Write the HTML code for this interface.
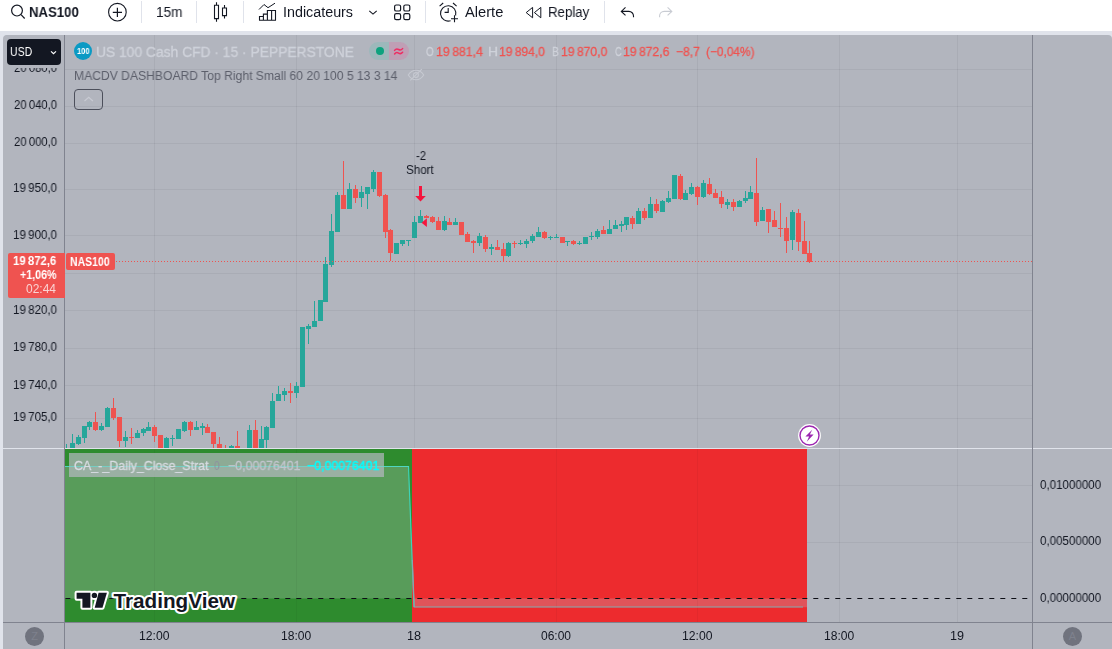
<!DOCTYPE html>
<html><head><meta charset="utf-8">
<style>
*{box-sizing:border-box;margin:0;padding:0}
html,body{width:1112px;height:649px;overflow:hidden;background:#e0e3eb;font-family:"Liberation Sans",sans-serif;color:#131722}
.abs{position:absolute}
#tb{position:absolute;left:0;top:0;width:1112px;height:31px;background:#fff}
#tb .t{position:absolute;top:4px;font-size:14px;line-height:16px;color:#131722;white-space:nowrap}
#tb .sep{position:absolute;top:1px;width:1px;height:22px;background:#e0e3eb}
#chart{position:absolute;left:3px;top:35px;width:1109px;height:614px;background:#b2b5be;border-radius:4px 4px 0 0;overflow:hidden}
.pl{position:absolute;left:0;width:57px;text-align:right;font-size:12px;line-height:14px;color:#131722;white-space:nowrap}
.pr{position:absolute;left:1040px;font-size:12px;line-height:14px;color:#131722;white-space:nowrap}
.tl{position:absolute;top:629px;font-size:12px;line-height:14px;color:#131722;white-space:nowrap;transform:translateX(-50%)}
.lg{position:absolute;white-space:nowrap}
.x{position:absolute;white-space:nowrap;transform-origin:0 0;will-change:transform}
</style></head><body>
<!-- TOOLBAR -->
<div id="tb">

<svg class="abs" style="left:0;top:0" width="700" height="31" fill="none" stroke="#131722" stroke-width="1.2">
 <circle cx="17" cy="10.6" r="5.4"/><path d="M21 14.6 L24.7 18.5"/>
 <circle cx="117.4" cy="12.2" r="8.8" stroke-width="1.1"/><path d="M117.4 7.7v9.2M112.8 12.3h9.2" stroke-width="1.2"/>
 <path d="M216.5 2.3v3M216.5 18.6v3.2M214.5 5.3h4v13.3h-4z M224.5 5v3M224.5 15.6v3M222.5 8h4v7.6h-4z" stroke-width="1.1"/>
 <path d="M259 9.5l5-5 4 3.2 7-4.5" stroke-width="1"/>
 <path d="M259.5 20.3v-3.8h3.9v3.8M263.4 20.3v-6.2h4v6.2M267.4 20.3v-9.8h4.2v9.8M259 20.3h17M275.5 20.3v-9.8h-4" stroke-width="1.1"/>
 <path d="M369.3 10.8l3.7 3.3 3.7-3.3" stroke-width="1.1"/>
 <rect x="394.6" y="5" width="6" height="6" rx="1.6"/><rect x="403.8" y="5" width="6" height="6" rx="1.6"/>
 <rect x="394.6" y="13.6" width="6" height="6" rx="1.6"/><rect x="403.8" y="13.6" width="6" height="6" rx="1.6"/>
 <path d="M455.6 15.5a7.7 7.7 0 1 0-5 5.2" stroke-width="1.1"/>
 <path d="M448.2 8v4.4h-3.6" stroke-width="1.1"/>
 <path d="M439.6 6.2l3.6-3.2M456.6 6.2l-3.6-3.2" stroke-width="1.1"/>
 <path d="M454.5 15.2v7M451 18.7h7" stroke-width="1.1"/>
 <path d="M532.6 7.4v10.4l-6.4-5.2zM540.8 7.4v10.4l-6.4-5.2z" stroke-width="1" stroke-linejoin="round"/>
 <path d="M625.5 7.4l-4.2 4 4.2 4M621.5 11.4h7.4a4.6 4.6 0 0 1 4.6 4.6v1.2" stroke-width="1.1"/>
 <path d="M667.6 7.4l4.2 4-4.2 4M671.6 11.4h-7.4a4.6 4.6 0 0 0-4.6 4.6v1.2" stroke="#c9ccd3" stroke-width="1.1"/>
</svg>
<div class="sep" style="left:141px"></div>
<div class="sep" style="left:196px"></div>
<div class="sep" style="left:243px"></div>
<div class="sep" style="left:425px"></div>
<div class="sep" style="left:604px"></div>
<div class="x" style="left:28.86px;top:5.00px;font-size:14px;line-height:14px;color:#131722;font-weight:bold;transform:scaleX(0.9404);">NAS100</div><div class="x" style="left:155.73px;top:5.00px;font-size:14px;line-height:14px;color:#131722;transform:scaleX(0.9731);">15m</div><div class="x" style="left:283.28px;top:5.00px;font-size:14px;line-height:14px;color:#131722;transform:scaleX(1.0224);">Indicateurs</div><div class="x" style="left:465.30px;top:5.00px;font-size:14px;line-height:14px;color:#131722;transform:scaleX(1.0472);">Alerte</div><div class="x" style="left:548.35px;top:5.00px;font-size:14px;line-height:14px;color:#131722;transform:scaleX(0.9465);">Replay</div>
</div>
<div id="chart"></div>
<!-- everything below is positioned in page coordinates -->
<svg class="abs" style="left:0;top:0" width="1112" height="649" shape-rendering="crispEdges">
<defs><clipPath id="mp"><rect x="65" y="35" width="967" height="413"/></clipPath></defs>
<g clip-path="url(#mp)">
<rect x="65" y="69" width="967" height="1" fill="#131722" fill-opacity="0.055"/>
<rect x="65" y="106" width="967" height="1" fill="#131722" fill-opacity="0.055"/>
<rect x="65" y="143" width="967" height="1" fill="#131722" fill-opacity="0.055"/>
<rect x="65" y="189" width="967" height="1" fill="#131722" fill-opacity="0.055"/>
<rect x="65" y="235" width="967" height="1" fill="#131722" fill-opacity="0.055"/>
<rect x="65" y="273" width="967" height="1" fill="#131722" fill-opacity="0.055"/>
<rect x="65" y="310" width="967" height="1" fill="#131722" fill-opacity="0.055"/>
<rect x="65" y="348" width="967" height="1" fill="#131722" fill-opacity="0.055"/>
<rect x="65" y="385" width="967" height="1" fill="#131722" fill-opacity="0.055"/>
<rect x="65" y="418" width="967" height="1" fill="#131722" fill-opacity="0.055"/>
<rect x="154" y="35" width="1" height="413" fill="#131722" fill-opacity="0.055"/>
<rect x="296" y="35" width="1" height="413" fill="#131722" fill-opacity="0.055"/>
<rect x="414" y="35" width="1" height="413" fill="#131722" fill-opacity="0.055"/>
<rect x="556" y="35" width="1" height="413" fill="#131722" fill-opacity="0.055"/>
<rect x="697" y="35" width="1" height="413" fill="#131722" fill-opacity="0.055"/>
<rect x="839" y="35" width="1" height="413" fill="#131722" fill-opacity="0.055"/>
<rect x="957" y="35" width="1" height="413" fill="#131722" fill-opacity="0.055"/>
<rect x="66" y="444" width="1" height="4" fill="#26a69a"/>
<rect x="72" y="434" width="1" height="14" fill="#26a69a"/>
<rect x="70" y="443" width="5" height="5" fill="#26a69a"/>
<rect x="78" y="435" width="1" height="10" fill="#26a69a"/>
<rect x="76" y="437" width="5" height="7" fill="#26a69a"/>
<rect x="84" y="426" width="1" height="17" fill="#26a69a"/>
<rect x="82" y="426" width="5" height="12" fill="#26a69a"/>
<rect x="89" y="421" width="1" height="9" fill="#26a69a"/>
<rect x="87" y="422" width="5" height="5" fill="#26a69a"/>
<rect x="95" y="412" width="1" height="19" fill="#ef5350"/>
<rect x="93" y="422" width="5" height="8" fill="#ef5350"/>
<rect x="101" y="423" width="1" height="8" fill="#26a69a"/>
<rect x="99" y="426" width="5" height="4" fill="#26a69a"/>
<rect x="107" y="407" width="1" height="20" fill="#26a69a"/>
<rect x="105" y="408" width="5" height="19" fill="#26a69a"/>
<rect x="113" y="398" width="1" height="22" fill="#ef5350"/>
<rect x="111" y="408" width="5" height="10" fill="#ef5350"/>
<rect x="119" y="417" width="1" height="30" fill="#ef5350"/>
<rect x="117" y="417" width="5" height="24" fill="#ef5350"/>
<rect x="125" y="431" width="1" height="16" fill="#26a69a"/>
<rect x="123" y="437" width="5" height="4" fill="#26a69a"/>
<rect x="131" y="428" width="1" height="16" fill="#ef5350"/>
<rect x="129" y="437" width="5" height="1" fill="#ef5350"/>
<rect x="137" y="430" width="1" height="8" fill="#26a69a"/>
<rect x="135" y="433" width="5" height="5" fill="#26a69a"/>
<rect x="143" y="428" width="1" height="8" fill="#26a69a"/>
<rect x="141" y="429" width="5" height="4" fill="#26a69a"/>
<rect x="148" y="422" width="1" height="9" fill="#26a69a"/>
<rect x="146" y="427" width="5" height="4" fill="#26a69a"/>
<rect x="154" y="425" width="1" height="17" fill="#ef5350"/>
<rect x="152" y="427" width="5" height="9" fill="#ef5350"/>
<rect x="160" y="435" width="1" height="13" fill="#ef5350"/>
<rect x="158" y="435" width="5" height="13" fill="#ef5350"/>
<rect x="166" y="437" width="1" height="11" fill="#26a69a"/>
<rect x="164" y="438" width="5" height="10" fill="#26a69a"/>
<rect x="172" y="435" width="1" height="11" fill="#26a69a"/>
<rect x="170" y="438" width="5" height="1" fill="#26a69a"/>
<rect x="178" y="429" width="1" height="10" fill="#26a69a"/>
<rect x="176" y="429" width="5" height="10" fill="#26a69a"/>
<rect x="184" y="421" width="1" height="11" fill="#26a69a"/>
<rect x="182" y="422" width="5" height="9" fill="#26a69a"/>
<rect x="190" y="421" width="1" height="15" fill="#ef5350"/>
<rect x="188" y="422" width="5" height="8" fill="#ef5350"/>
<rect x="196" y="421" width="1" height="9" fill="#26a69a"/>
<rect x="194" y="427" width="5" height="3" fill="#26a69a"/>
<rect x="202" y="423" width="1" height="12" fill="#26a69a"/>
<rect x="200" y="426" width="5" height="2" fill="#26a69a"/>
<rect x="207" y="424" width="1" height="9" fill="#ef5350"/>
<rect x="205" y="427" width="5" height="6" fill="#ef5350"/>
<rect x="213" y="432" width="1" height="16" fill="#ef5350"/>
<rect x="211" y="432" width="5" height="12" fill="#ef5350"/>
<rect x="219" y="437" width="1" height="11" fill="#ef5350"/>
<rect x="217" y="444" width="5" height="4" fill="#ef5350"/>
<rect x="225" y="445" width="1" height="3" fill="#ef5350"/>
<rect x="231" y="445" width="1" height="3" fill="#26a69a"/>
<rect x="229" y="446" width="5" height="2" fill="#26a69a"/>
<rect x="237" y="431" width="1" height="17" fill="#ef5350"/>
<rect x="235" y="446" width="5" height="2" fill="#ef5350"/>
<rect x="249" y="425" width="1" height="23" fill="#26a69a"/>
<rect x="247" y="430" width="5" height="18" fill="#26a69a"/>
<rect x="255" y="420" width="1" height="28" fill="#ef5350"/>
<rect x="253" y="430" width="5" height="18" fill="#ef5350"/>
<rect x="261" y="426" width="1" height="22" fill="#26a69a"/>
<rect x="259" y="439" width="5" height="9" fill="#26a69a"/>
<rect x="266" y="426" width="1" height="22" fill="#26a69a"/>
<rect x="264" y="427" width="5" height="13" fill="#26a69a"/>
<rect x="272" y="393" width="1" height="35" fill="#26a69a"/>
<rect x="270" y="401" width="5" height="27" fill="#26a69a"/>
<rect x="278" y="386" width="1" height="15" fill="#26a69a"/>
<rect x="276" y="394" width="5" height="7" fill="#26a69a"/>
<rect x="284" y="388" width="1" height="13" fill="#26a69a"/>
<rect x="282" y="391" width="5" height="4" fill="#26a69a"/>
<rect x="290" y="383" width="1" height="20" fill="#ef5350"/>
<rect x="288" y="391" width="5" height="2" fill="#ef5350"/>
<rect x="296" y="382" width="1" height="16" fill="#26a69a"/>
<rect x="294" y="386" width="5" height="7" fill="#26a69a"/>
<rect x="302" y="327" width="1" height="60" fill="#26a69a"/>
<rect x="300" y="327" width="5" height="60" fill="#26a69a"/>
<rect x="308" y="324" width="1" height="20" fill="#26a69a"/>
<rect x="306" y="326" width="5" height="3" fill="#26a69a"/>
<rect x="314" y="301" width="1" height="26" fill="#26a69a"/>
<rect x="312" y="321" width="5" height="6" fill="#26a69a"/>
<rect x="320" y="300" width="1" height="21" fill="#26a69a"/>
<rect x="318" y="300" width="5" height="21" fill="#26a69a"/>
<rect x="325" y="257" width="1" height="45" fill="#26a69a"/>
<rect x="323" y="264" width="5" height="38" fill="#26a69a"/>
<rect x="331" y="214" width="1" height="53" fill="#26a69a"/>
<rect x="329" y="231" width="5" height="34" fill="#26a69a"/>
<rect x="337" y="192" width="1" height="40" fill="#26a69a"/>
<rect x="335" y="195" width="5" height="37" fill="#26a69a"/>
<rect x="343" y="161" width="1" height="48" fill="#ef5350"/>
<rect x="341" y="195" width="5" height="14" fill="#ef5350"/>
<rect x="349" y="183" width="1" height="26" fill="#26a69a"/>
<rect x="347" y="189" width="5" height="20" fill="#26a69a"/>
<rect x="355" y="185" width="1" height="18" fill="#ef5350"/>
<rect x="353" y="189" width="5" height="9" fill="#ef5350"/>
<rect x="361" y="186" width="1" height="21" fill="#26a69a"/>
<rect x="359" y="192" width="5" height="6" fill="#26a69a"/>
<rect x="367" y="187" width="1" height="22" fill="#26a69a"/>
<rect x="365" y="187" width="5" height="7" fill="#26a69a"/>
<rect x="373" y="170" width="1" height="22" fill="#26a69a"/>
<rect x="371" y="172" width="5" height="17" fill="#26a69a"/>
<rect x="379" y="172" width="1" height="25" fill="#ef5350"/>
<rect x="377" y="172" width="5" height="24" fill="#ef5350"/>
<rect x="385" y="194" width="1" height="44" fill="#ef5350"/>
<rect x="383" y="195" width="5" height="37" fill="#ef5350"/>
<rect x="390" y="229" width="1" height="32" fill="#ef5350"/>
<rect x="388" y="230" width="5" height="23" fill="#ef5350"/>
<rect x="396" y="243" width="1" height="11" fill="#26a69a"/>
<rect x="394" y="243" width="5" height="11" fill="#26a69a"/>
<rect x="402" y="240" width="1" height="6" fill="#26a69a"/>
<rect x="400" y="240" width="5" height="4" fill="#26a69a"/>
<rect x="408" y="240" width="1" height="6" fill="#26a69a"/>
<rect x="406" y="240" width="5" height="1" fill="#26a69a"/>
<rect x="414" y="216" width="1" height="22" fill="#26a69a"/>
<rect x="412" y="222" width="5" height="16" fill="#26a69a"/>
<rect x="420" y="210" width="1" height="13" fill="#26a69a"/>
<rect x="418" y="216" width="5" height="7" fill="#26a69a"/>
<rect x="426" y="215" width="1" height="3" fill="#ef5350"/>
<rect x="424" y="216" width="5" height="2" fill="#ef5350"/>
<rect x="432" y="216" width="1" height="7" fill="#ef5350"/>
<rect x="430" y="217" width="5" height="5" fill="#ef5350"/>
<rect x="438" y="217" width="1" height="13" fill="#ef5350"/>
<rect x="436" y="221" width="5" height="9" fill="#ef5350"/>
<rect x="444" y="216" width="1" height="15" fill="#26a69a"/>
<rect x="442" y="221" width="5" height="9" fill="#26a69a"/>
<rect x="449" y="218" width="1" height="7" fill="#ef5350"/>
<rect x="447" y="222" width="5" height="3" fill="#ef5350"/>
<rect x="455" y="218" width="1" height="7" fill="#26a69a"/>
<rect x="453" y="222" width="5" height="3" fill="#26a69a"/>
<rect x="461" y="222" width="1" height="13" fill="#ef5350"/>
<rect x="459" y="222" width="5" height="13" fill="#ef5350"/>
<rect x="467" y="232" width="1" height="10" fill="#ef5350"/>
<rect x="465" y="234" width="5" height="8" fill="#ef5350"/>
<rect x="473" y="240" width="1" height="13" fill="#ef5350"/>
<rect x="471" y="241" width="5" height="2" fill="#ef5350"/>
<rect x="479" y="233" width="1" height="13" fill="#26a69a"/>
<rect x="477" y="236" width="5" height="7" fill="#26a69a"/>
<rect x="485" y="235" width="1" height="17" fill="#ef5350"/>
<rect x="483" y="237" width="5" height="12" fill="#ef5350"/>
<rect x="491" y="244" width="1" height="11" fill="#26a69a"/>
<rect x="489" y="247" width="5" height="2" fill="#26a69a"/>
<rect x="497" y="240" width="1" height="10" fill="#ef5350"/>
<rect x="495" y="247" width="5" height="3" fill="#ef5350"/>
<rect x="503" y="243" width="1" height="19" fill="#ef5350"/>
<rect x="501" y="249" width="5" height="7" fill="#ef5350"/>
<rect x="508" y="242" width="1" height="15" fill="#26a69a"/>
<rect x="506" y="243" width="5" height="13" fill="#26a69a"/>
<rect x="514" y="241" width="1" height="7" fill="#ef5350"/>
<rect x="512" y="243" width="5" height="1" fill="#ef5350"/>
<rect x="520" y="240" width="1" height="5" fill="#26a69a"/>
<rect x="518" y="243" width="5" height="1" fill="#26a69a"/>
<rect x="526" y="239" width="1" height="9" fill="#26a69a"/>
<rect x="524" y="241" width="5" height="3" fill="#26a69a"/>
<rect x="532" y="234" width="1" height="9" fill="#26a69a"/>
<rect x="530" y="236" width="5" height="5" fill="#26a69a"/>
<rect x="538" y="227" width="1" height="10" fill="#26a69a"/>
<rect x="536" y="232" width="5" height="5" fill="#26a69a"/>
<rect x="544" y="231" width="1" height="8" fill="#ef5350"/>
<rect x="542" y="232" width="5" height="6" fill="#ef5350"/>
<rect x="550" y="236" width="1" height="4" fill="#26a69a"/>
<rect x="548" y="237" width="5" height="1" fill="#26a69a"/>
<rect x="556" y="234" width="1" height="4" fill="#26a69a"/>
<rect x="554" y="237" width="5" height="1" fill="#26a69a"/>
<rect x="562" y="237" width="1" height="6" fill="#ef5350"/>
<rect x="560" y="237" width="5" height="6" fill="#ef5350"/>
<rect x="567" y="241" width="1" height="5" fill="#26a69a"/>
<rect x="565" y="241" width="5" height="1" fill="#26a69a"/>
<rect x="573" y="240" width="1" height="5" fill="#ef5350"/>
<rect x="571" y="241" width="5" height="3" fill="#ef5350"/>
<rect x="579" y="241" width="1" height="4" fill="#26a69a"/>
<rect x="577" y="243" width="5" height="1" fill="#26a69a"/>
<rect x="585" y="237" width="1" height="7" fill="#26a69a"/>
<rect x="583" y="237" width="5" height="7" fill="#26a69a"/>
<rect x="591" y="232" width="1" height="8" fill="#26a69a"/>
<rect x="589" y="236" width="5" height="1" fill="#26a69a"/>
<rect x="597" y="229" width="1" height="10" fill="#26a69a"/>
<rect x="595" y="231" width="5" height="6" fill="#26a69a"/>
<rect x="603" y="226" width="1" height="8" fill="#ef5350"/>
<rect x="601" y="230" width="5" height="4" fill="#ef5350"/>
<rect x="609" y="220" width="1" height="14" fill="#26a69a"/>
<rect x="607" y="229" width="5" height="5" fill="#26a69a"/>
<rect x="615" y="220" width="1" height="9" fill="#26a69a"/>
<rect x="613" y="225" width="5" height="4" fill="#26a69a"/>
<rect x="621" y="221" width="1" height="11" fill="#26a69a"/>
<rect x="619" y="224" width="5" height="2" fill="#26a69a"/>
<rect x="626" y="217" width="1" height="13" fill="#26a69a"/>
<rect x="624" y="217" width="5" height="8" fill="#26a69a"/>
<rect x="632" y="216" width="1" height="13" fill="#ef5350"/>
<rect x="630" y="218" width="5" height="6" fill="#ef5350"/>
<rect x="638" y="208" width="1" height="16" fill="#26a69a"/>
<rect x="636" y="211" width="5" height="13" fill="#26a69a"/>
<rect x="644" y="208" width="1" height="12" fill="#ef5350"/>
<rect x="642" y="211" width="5" height="7" fill="#ef5350"/>
<rect x="650" y="197" width="1" height="21" fill="#26a69a"/>
<rect x="648" y="204" width="5" height="14" fill="#26a69a"/>
<rect x="656" y="199" width="1" height="14" fill="#ef5350"/>
<rect x="654" y="204" width="5" height="7" fill="#ef5350"/>
<rect x="662" y="200" width="1" height="12" fill="#26a69a"/>
<rect x="660" y="201" width="5" height="11" fill="#26a69a"/>
<rect x="668" y="191" width="1" height="12" fill="#26a69a"/>
<rect x="666" y="198" width="5" height="4" fill="#26a69a"/>
<rect x="674" y="175" width="1" height="24" fill="#26a69a"/>
<rect x="672" y="175" width="5" height="24" fill="#26a69a"/>
<rect x="680" y="174" width="1" height="26" fill="#ef5350"/>
<rect x="678" y="176" width="5" height="23" fill="#ef5350"/>
<rect x="685" y="190" width="1" height="10" fill="#26a69a"/>
<rect x="683" y="193" width="5" height="7" fill="#26a69a"/>
<rect x="691" y="183" width="1" height="12" fill="#26a69a"/>
<rect x="689" y="187" width="5" height="7" fill="#26a69a"/>
<rect x="697" y="186" width="1" height="19" fill="#ef5350"/>
<rect x="695" y="187" width="5" height="10" fill="#ef5350"/>
<rect x="703" y="180" width="1" height="18" fill="#26a69a"/>
<rect x="701" y="183" width="5" height="14" fill="#26a69a"/>
<rect x="709" y="178" width="1" height="17" fill="#ef5350"/>
<rect x="707" y="184" width="5" height="10" fill="#ef5350"/>
<rect x="715" y="189" width="1" height="9" fill="#ef5350"/>
<rect x="713" y="193" width="5" height="5" fill="#ef5350"/>
<rect x="721" y="191" width="1" height="17" fill="#ef5350"/>
<rect x="719" y="197" width="5" height="7" fill="#ef5350"/>
<rect x="727" y="199" width="1" height="10" fill="#26a69a"/>
<rect x="725" y="202" width="5" height="3" fill="#26a69a"/>
<rect x="733" y="199" width="1" height="12" fill="#ef5350"/>
<rect x="731" y="202" width="5" height="5" fill="#ef5350"/>
<rect x="739" y="200" width="1" height="7" fill="#26a69a"/>
<rect x="737" y="201" width="5" height="6" fill="#26a69a"/>
<rect x="745" y="191" width="1" height="12" fill="#26a69a"/>
<rect x="743" y="198" width="5" height="3" fill="#26a69a"/>
<rect x="750" y="186" width="1" height="13" fill="#26a69a"/>
<rect x="748" y="192" width="5" height="7" fill="#26a69a"/>
<rect x="756" y="158" width="1" height="68" fill="#ef5350"/>
<rect x="754" y="193" width="5" height="29" fill="#ef5350"/>
<rect x="762" y="207" width="1" height="14" fill="#26a69a"/>
<rect x="760" y="210" width="5" height="11" fill="#26a69a"/>
<rect x="768" y="209" width="1" height="24" fill="#ef5350"/>
<rect x="766" y="209" width="5" height="13" fill="#ef5350"/>
<rect x="774" y="211" width="1" height="16" fill="#ef5350"/>
<rect x="772" y="220" width="5" height="7" fill="#ef5350"/>
<rect x="780" y="203" width="1" height="34" fill="#ef5350"/>
<rect x="778" y="228" width="5" height="1" fill="#ef5350"/>
<rect x="786" y="217" width="1" height="36" fill="#ef5350"/>
<rect x="784" y="228" width="5" height="13" fill="#ef5350"/>
<rect x="792" y="210" width="1" height="40" fill="#26a69a"/>
<rect x="790" y="212" width="5" height="28" fill="#26a69a"/>
<rect x="798" y="209" width="1" height="42" fill="#ef5350"/>
<rect x="796" y="213" width="5" height="29" fill="#ef5350"/>
<rect x="804" y="221" width="1" height="33" fill="#ef5350"/>
<rect x="802" y="241" width="5" height="13" fill="#ef5350"/>
<rect x="809" y="241" width="1" height="22" fill="#ef5350"/>
<rect x="807" y="253" width="5" height="9" fill="#ef5350"/>
</g>
<rect x="65" y="449" width="347" height="173" fill="#2e8b2e"/>
<rect x="412" y="449" width="395" height="173" fill="#ed2b2e"/>
<path d="M65 466.5 L408.5 466.5 L412 550 L412 598.5 L65 598.5 Z" fill="#589c5a" shape-rendering="geometricPrecision"/>
<path d="M413.8 598.5 L807 598.5 L807 607.3 L414.2 607.3 Z" fill="#e0545a" shape-rendering="geometricPrecision"/>
<rect x="807" y="485" width="225" height="1" fill="#131722" fill-opacity="0.055"/>
<rect x="807" y="542" width="225" height="1" fill="#131722" fill-opacity="0.055"/>
<rect x="839" y="449" width="1" height="173" fill="#131722" fill-opacity="0.055"/>
<rect x="957" y="449" width="1" height="173" fill="#131722" fill-opacity="0.055"/>
<rect x="154" y="449" width="1" height="173" fill="#000" fill-opacity="0.04"/>
<rect x="296" y="449" width="1" height="173" fill="#000" fill-opacity="0.04"/>
<rect x="556" y="449" width="1" height="173" fill="#000" fill-opacity="0.04"/>
<rect x="697" y="449" width="1" height="173" fill="#000" fill-opacity="0.04"/>
<path d="M65 466.5 L408.5 466.5 L414 607" fill="none" stroke="#3fd3b8" stroke-width="1.2" shape-rendering="geometricPrecision"/>
<path d="M412.3 560 L414.2 607 L803 607" fill="none" stroke="#84a9ad" stroke-width="1.200" shape-rendering="geometricPrecision"/>
<path d="M65.5 598.5 H1030" fill="none" stroke="#0c0e15" stroke-width="1" stroke-dasharray="5 6" stroke-dashoffset="0.2" shape-rendering="geometricPrecision"/>
<rect x="3" y="448" width="1109" height="1" fill="#e0e3eb"/>
<rect x="3" y="622" width="1109" height="1" fill="#80838f"/>
<rect x="64" y="35" width="1" height="614" fill="#80838f"/>
<rect x="1032" y="35" width="1" height="614" fill="#80838f"/>
<path d="M116 261.5 H1032" fill="none" stroke="#ef5350" stroke-width="1" stroke-dasharray="1 2"/>
</svg>
<div class="x" style="left:13.80px;top:62.00px;font-size:12px;line-height:12px;color:#131722;transform:scaleX(0.9413);">20&#8239;080,0</div>
<div class="abs" style="left:4px;top:35px;width:60px;height:33px;background:#b2b5be;border-radius:4px 0 0 0"></div>
<div class="x" style="left:13.80px;top:99.00px;font-size:12px;line-height:12px;color:#131722;transform:scaleX(0.9413);">20&#8239;040,0</div>
<div class="x" style="left:13.80px;top:136.00px;font-size:12px;line-height:12px;color:#131722;transform:scaleX(0.9413);">20&#8239;000,0</div>
<div class="x" style="left:12.84px;top:182.00px;font-size:12px;line-height:12px;color:#131722;transform:scaleX(0.9622);">19&#8239;950,0</div>
<div class="x" style="left:12.84px;top:229.00px;font-size:12px;line-height:12px;color:#131722;transform:scaleX(0.9622);">19&#8239;900,0</div>
<div class="x" style="left:12.84px;top:304.00px;font-size:12px;line-height:12px;color:#131722;transform:scaleX(0.9622);">19&#8239;820,0</div>
<div class="x" style="left:12.84px;top:341.00px;font-size:12px;line-height:12px;color:#131722;transform:scaleX(0.9622);">19&#8239;780,0</div>
<div class="x" style="left:12.84px;top:379.00px;font-size:12px;line-height:12px;color:#131722;transform:scaleX(0.9622);">19&#8239;740,0</div>
<div class="x" style="left:12.84px;top:411.00px;font-size:12px;line-height:12px;color:#131722;transform:scaleX(0.9622);">19&#8239;705,0</div>
<div class="abs" style="left:7px;top:39px;width:54px;height:25.5px;background:#131722;border-radius:4px"></div>
<div class="x" style="left:10.12px;top:46.00px;font-size:12px;line-height:12px;color:#fff;transform:scaleX(0.8750);">USD</div>
<svg class="abs" style="left:48px;top:48px" width="10" height="8" fill="none" stroke="#fff" stroke-width="1.2"><path d="M3 3.400l2.500 2.300 2.500-2.300"/></svg>
<div class="x" style="left:1040.20px;top:479.00px;font-size:12px;line-height:12px;color:#131722;transform:scaleX(0.9635);">0,01000000</div>
<div class="x" style="left:1040.20px;top:535.00px;font-size:12px;line-height:12px;color:#131722;transform:scaleX(0.9635);">0,00500000</div>
<div class="x" style="left:1040.20px;top:592.00px;font-size:12px;line-height:12px;color:#131722;transform:scaleX(0.9635);">0,00000000</div>
<div class="x" style="left:139.29px;top:630.00px;font-size:12px;line-height:12px;color:#131722;transform:scaleX(1.0138);">12:00</div>
<div class="x" style="left:280.89px;top:630.00px;font-size:12px;line-height:12px;color:#131722;transform:scaleX(1.0069);">18:00</div>
<div class="x" style="left:406.65px;top:630.00px;font-size:12px;line-height:12px;color:#131722;transform:scaleX(1.0500);">18</div>
<div class="x" style="left:541.20px;top:630.00px;font-size:12px;line-height:12px;color:#131722;transform:scaleX(0.9867);">06:00</div>
<div class="x" style="left:681.79px;top:630.00px;font-size:12px;line-height:12px;color:#131722;transform:scaleX(1.0138);">12:00</div>
<div class="x" style="left:823.89px;top:630.00px;font-size:12px;line-height:12px;color:#131722;transform:scaleX(1.0069);">18:00</div>
<div class="x" style="left:949.95px;top:630.00px;font-size:12px;line-height:12px;color:#131722;transform:scaleX(1.0500);">19</div>
<div class="abs" style="left:25px;top:627px;width:19px;height:19px;border-radius:50%;background:#70737e;color:#7e818d;font-size:11px;line-height:19px;text-align:center">Z</div>
<div class="abs" style="left:1063px;top:627px;width:19px;height:19px;border-radius:50%;background:#70737e;color:#7e818d;font-size:11px;line-height:19px;text-align:center">A</div>
<div class="abs" style="left:8px;top:253px;width:57px;height:45px;background:#ef5350;border-radius:2px 0 0 2px"></div>
<div class="x" style="left:12.70px;top:255.00px;font-size:12px;line-height:12px;color:#fff;font-weight:bold;transform:scaleX(0.9457);">19&#8239;872,6</div>
<div class="x" style="left:19.70px;top:269.00px;font-size:12px;line-height:12px;color:#fff;font-weight:bold;transform:scaleX(0.8902);">+1,06%</div>
<div class="x" style="left:26.20px;top:283.00px;font-size:12px;line-height:12px;color:#fbd3d2;transform:scaleX(1.0000);">02:44</div>
<div class="abs" style="left:66px;top:253px;width:49px;height:17px;background:#ef5350;border-radius:2px"></div>
<div class="x" style="left:69.90px;top:256.00px;font-size:12px;line-height:12px;color:#fff;font-weight:bold;transform:scaleX(0.8733);">NAS100</div>
<div class="abs" style="left:74px;top:42px;width:18px;height:18px;border-radius:50%;background:#0a9ac4"></div>
<div class="x" style="left:77.00px;top:47.00px;font-size:8.5px;line-height:8.5px;color:#fff;font-weight:bold;transform:scaleX(0.8786);">100</div>
<div class="x" style="left:96.01px;top:43.80px;font-size:14px;line-height:14px;color:#cfd2da;transform:scale(0.9877,1.1000);-webkit-text-stroke:0.3px">US 100 Cash CFD · 15 · PEPPERSTONE</div>
<svg class="abs" style="left:365px;top:40px" width="50" height="24"><path d="M13 2h11v18h-11a9 9 0 0 1 0-18z" fill="#9db8bb"/><path d="M24 2h11a9 9 0 0 1 0 18h-11z" fill="#bf9fb5"/><circle cx="15" cy="10.900" r="4" fill="#0da27e"/><path d="M29.600 10.400c1.200-1.700 2.600-1.800 4-0.900s2.700 0.800 4-0.900M29.600 14c1.200-1.700 2.600-1.800 4-0.900s2.700 0.800 4-0.900" fill="none" stroke="#ee2d62" stroke-width="1.500" stroke-linecap="round"/></svg>
<div class="x" style="left:425.50px;top:46.00px;font-size:12.5px;line-height:12.5px;color:#cfd2da;transform:scaleX(0.8000);-webkit-text-stroke:0.3px">O</div>
<div class="x" style="left:435.82px;top:46.00px;font-size:12.5px;line-height:12.5px;color:#ef5350;transform:scaleX(0.9830);-webkit-text-stroke:0.3px">19&#8239;881,4</div>
<div class="x" style="left:488.29px;top:46.00px;font-size:12.5px;line-height:12.5px;color:#cfd2da;transform:scaleX(1.1143);-webkit-text-stroke:0.3px">H</div>
<div class="x" style="left:498.74px;top:46.00px;font-size:12.5px;line-height:12.5px;color:#ef5350;transform:scaleX(0.9617);-webkit-text-stroke:0.3px">19&#8239;894,0</div>
<div class="x" style="left:552.39px;top:46.00px;font-size:12.5px;line-height:12.5px;color:#cfd2da;transform:scaleX(0.8143);-webkit-text-stroke:0.3px">B</div>
<div class="x" style="left:560.83px;top:46.00px;font-size:12.5px;line-height:12.5px;color:#ef5350;transform:scaleX(0.9702);-webkit-text-stroke:0.3px">19&#8239;870,0</div>
<div class="x" style="left:614.50px;top:46.00px;font-size:12.5px;line-height:12.5px;color:#cfd2da;transform:scaleX(0.7444);-webkit-text-stroke:0.3px">C</div>
<div class="x" style="left:623.13px;top:46.00px;font-size:12.5px;line-height:12.5px;color:#ef5350;transform:scaleX(0.9723);-webkit-text-stroke:0.3px">19&#8239;872,6</div>
<div class="x" style="left:676.33px;top:46.00px;font-size:12.5px;line-height:12.5px;color:#ef5350;transform:scaleX(0.9652);-webkit-text-stroke:0.3px">−8,7</div>
<div class="x" style="left:705.95px;top:46.00px;font-size:12.5px;line-height:12.5px;color:#ef5350;transform:scaleX(0.9480);-webkit-text-stroke:0.3px">(−0,04%)</div>
<div class="x" style="left:73.73px;top:70.00px;font-size:12.5px;line-height:12.5px;color:#5c5f6b;transform:scaleX(0.9705);">MACDV DASHBOARD Top Right Small 60 20 100 5 13 3 14</div>
<svg class="abs" style="left:406px;top:66px" width="20" height="18" fill="none" stroke="#c6c9d1" stroke-width="1.100"><path d="M2.300 9c2-3.300 4.600-4.800 7.700-4.800s5.700 1.500 7.700 4.800c-2 3.300-4.600 4.800-7.700 4.800s-5.700-1.500-7.700-4.800z"/><circle cx="10" cy="9" r="2.400"/><path d="M4.300 14.300L15.800 3.200"/></svg>
<div class="abs" style="left:74px;top:89px;width:29px;height:21px;border:1px solid #4c4f5b;border-radius:4px"></div>
<svg class="abs" style="left:82px;top:94px" width="14" height="10" fill="none" stroke="#c8cad2" stroke-width="1.2"><path d="M2.5 7l4.2-3.8 4.200 3.8"/></svg>
<div class="x" style="left:415.60px;top:150.00px;font-size:12px;line-height:12px;color:#131722;transform:scaleX(0.9400);">-2</div>
<div class="x" style="left:405.93px;top:164.00px;font-size:12px;line-height:12px;color:#131722;transform:scaleX(0.9679);">Short</div>
<svg class="abs" style="left:410px;top:180px" width="22" height="52"><path d="M9 6h3v10h3.8l-5.3 5.5-5.3-5.500h3.800z" fill="#f5153d"/><path d="M11.600 42.700l5.300-4.400v8.800z" fill="#f5153d"/></svg>
<svg class="abs" style="left:797px;top:423px" width="25" height="25"><circle cx="12.500" cy="12.500" r="11.400" fill="#fff"/><circle cx="12.500" cy="12.500" r="9.500" fill="#fff" stroke="#9c27b0" stroke-width="1.400"/><path d="M15.200 6.800l-6.800 6.700h3.700l-2.300 5.200 6.800-7.300h-3.700z" fill="#9c27b0"/></svg>
<div class="abs" style="left:69px;top:453px;width:315px;height:24px;background:rgba(182,185,194,0.7)"></div>
<svg class="abs" style="left:65px;top:460px" width="345" height="12"><path d="M0 6.500H344" stroke="#5fd9c6" stroke-opacity="0.550" stroke-width="1.100"/></svg>
<div class="x" style="left:74.20px;top:460.00px;font-size:12.5px;line-height:12.5px;color:#d9dce3;transform:scaleX(0.9934);-webkit-text-stroke:0.3px">CA_-_Daily_Close_Strat</div>
<div class="x" style="left:214.40px;top:460.00px;font-size:12.5px;line-height:12.5px;color:#8f92a0;transform:scaleX(0.8000);">0</div>
<div class="x" style="left:227.91px;top:460.00px;font-size:12.5px;line-height:12.5px;color:#c3c6cf;transform:scaleX(0.9875);-webkit-text-stroke:0.3px">−0,00076401</div>
<div class="x" style="left:307.11px;top:460.00px;font-size:12.5px;line-height:12.5px;color:#00ffff;transform:scaleX(0.9861);-webkit-text-stroke:0.45px">−0,00076401</div>
<svg class="abs" style="left:70px;top:586px" width="175" height="32">
<g stroke="#fff" stroke-width="4" stroke-linejoin="round" fill="#fff">
<path d="M6.600 6.700h13.800v15.100h-8v-9.100H6.600z"/><circle cx="24.400" cy="9.400" r="2.700"/><path d="M28.600 6.700h8.300l-4.400 15.100h-7.800z"/>
</g>
<g fill="#131722">
<path d="M6.600 6.700h13.800v15.100h-8v-9.100H6.600z"/><circle cx="24.400" cy="9.400" r="2.700"/><path d="M28.600 6.700h8.300l-4.400 15.100h-7.800z"/>
</g>
<text x="43.500" y="22.400" font-family="Liberation Sans, sans-serif" font-weight="bold" font-size="19.500" textLength="121.500" lengthAdjust="spacingAndGlyphs" stroke="#fff" stroke-width="4" stroke-linejoin="round" fill="#fff">TradingView</text>
<text x="43.500" y="22.400" font-family="Liberation Sans, sans-serif" font-weight="bold" font-size="19.500" textLength="121.500" lengthAdjust="spacingAndGlyphs" fill="#131722">TradingView</text>
</svg>
</body></html>
